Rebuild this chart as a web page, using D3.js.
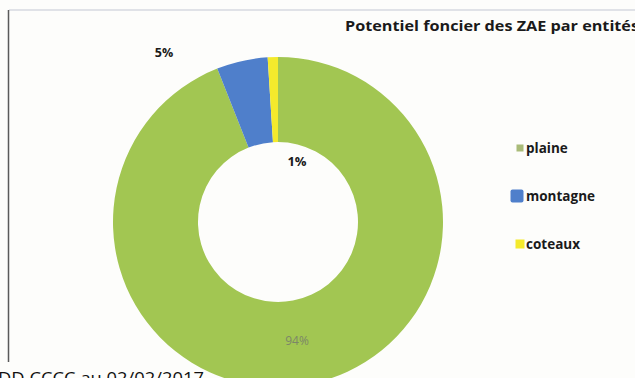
<!DOCTYPE html>
<html>
<head>
<meta charset="utf-8">
<script src="https://cdn.jsdelivr.net/npm/d3@7"></script>
<style>
  html, body { margin: 0; padding: 0; background: #fdfdfb; }
  svg { display: block; }
</style>
</head>
<body>
<svg id="chart" width="635" height="378"></svg>
<script>
// Potentiel foncier des ZAE, réparti par entité géographique
const categories = ["plaine", "montagne", "coteaux"];
const values = [94, 5, 1];
const valueLabels = ["94%", "5%", "1%"];
const colors = ["#a2c652", "#4f7fcb", "#f4ea2c"];
const legendColors = ["#a9bb78", "#4f7fcb", "#f4ea2c"];

const svg = d3.select("#chart");
const W = 635, H = 378;

// frame of the chart area
svg.append("line").attr("x1", 9).attr("x2", W).attr("y1", 10).attr("y2", 10)
  .attr("stroke", "#d6d8e0").attr("stroke-width", 1.5);
svg.append("line").attr("x1", 8.5).attr("x2", 8.5).attr("y1", 10).attr("y2", 362)
  .attr("stroke", "#5a5a5a").attr("stroke-width", 1.5);

// title
svg.append("text")
  .attr("x", 345).attr("y", 31)
  .attr("font-family", "Open Sans, sans-serif")
  .attr("font-weight", "bold")
  .attr("font-size", 14.5)
  .attr("textLength", 294)
  .attr("lengthAdjust", "spacingAndGlyphs")
  .attr("fill", "#1a1a1a")
  .text("Potentiel foncier des ZAE par entités");

// donut
const cx = 278, cy = 222, rOuter = 165, rInner = 80;
const pie = d3.pie().sort(null).value(d => d)(values);
const arc = d3.arc().innerRadius(rInner).outerRadius(rOuter);
const g = svg.append("g").attr("transform", `translate(${cx},${cy})`);
g.selectAll("path").data(pie).join("path")
  .attr("d", arc)
  .attr("fill", (d, i) => colors[i]);

// value labels
const labelPos = [
  { x: 297, y: 345, size: 12, weight: "normal", fill: "#7c8668" },
  { x: 164, y: 57, size: 12.5, weight: "bold", fill: "#1a1a1a" },
  { x: 297, y: 166, size: 13, weight: "bold", fill: "#1a1a1a" }
];
svg.selectAll("text.val").data(valueLabels).join("text")
  .attr("class", "val")
  .attr("x", (d, i) => labelPos[i].x)
  .attr("y", (d, i) => labelPos[i].y)
  .attr("text-anchor", "middle")
  .attr("font-family", "Open Sans, sans-serif")
  .attr("font-size", (d, i) => labelPos[i].size)
  .attr("font-weight", (d, i) => labelPos[i].weight)
  .attr("fill", (d, i) => labelPos[i].fill)
  .text(d => d);

// legend
const legendY = d3.scalePoint().domain(categories).range([148, 244]);
const markerSize = [7, 13, 9];
const leg = svg.selectAll("g.leg").data(categories).join("g")
  .attr("class", "leg")
  .attr("transform", d => `translate(0,${legendY(d)})`);
leg.append("rect")
  .attr("x", (d, i) => 520 - markerSize[i] / 2 - (i === 1 ? 3 : 0))
  .attr("y", (d, i) => -markerSize[i] / 2)
  .attr("width", (d, i) => markerSize[i])
  .attr("height", (d, i) => markerSize[i])
  .attr("rx", (d, i) => i === 1 ? 2 : 0)
  .attr("fill", (d, i) => legendColors[i]);
leg.append("text")
  .attr("x", (d, i) => i === 1 ? 526 : 526)
  .attr("y", 4.5)
  .attr("font-family", "Open Sans, sans-serif")
  .attr("font-weight", "bold")
  .attr("font-size", 13.5)
  .attr("fill", "#1a1a1a")
  .text(d => d);

// source line at the bottom
svg.append("text")
  .attr("x", -2).attr("y", 384)
  .attr("font-family", "Open Sans, sans-serif")
  .attr("font-size", 17)
  .attr("textLength", 206)
  .attr("lengthAdjust", "spacingAndGlyphs")
  .attr("fill", "#111")
  .text("DD CCCC au 02/02/2017");
</script>
</body>
</html>
